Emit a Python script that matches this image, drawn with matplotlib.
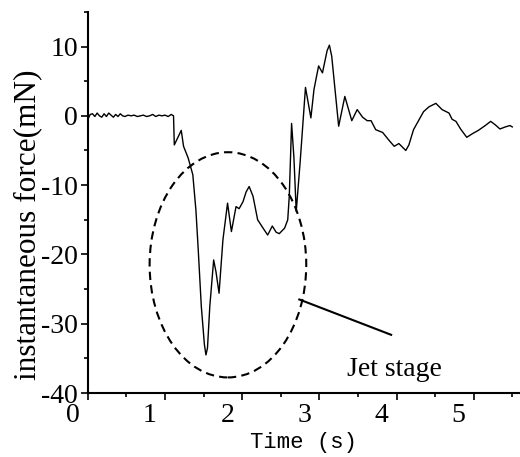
import matplotlib
matplotlib.use("Agg")
import matplotlib.pyplot as plt
import matplotlib.transforms as mtransforms
from matplotlib.patches import Ellipse
from matplotlib.ticker import MultipleLocator

# ==============================
# Data
# ==============================
time_s = [0.00, 0.03, 0.06, 0.09, 0.12, 0.15, 0.18, 0.21, 0.24, 0.27, 0.30,
          0.33, 0.36, 0.39, 0.42, 0.45, 0.48, 0.52, 0.56, 0.60, 0.64, 0.68,
          0.72, 0.76, 0.80, 0.84, 0.88, 0.92, 0.96, 1.00, 1.04, 1.08, 1.11,
          1.12, 1.15, 1.21, 1.24, 1.30, 1.36, 1.40, 1.43, 1.47, 1.51, 1.53,
          1.55, 1.58, 1.63, 1.66, 1.70, 1.75, 1.81, 1.86, 1.92, 1.96, 2.01,
          2.05, 2.09, 2.14, 2.20, 2.27, 2.33, 2.39, 2.44, 2.48, 2.55, 2.59,
          2.61, 2.64, 2.67, 2.70, 2.75, 2.82, 2.89, 2.93, 2.99, 3.04, 3.10,
          3.13, 3.16, 3.25, 3.33, 3.42, 3.49, 3.56, 3.62, 3.67, 3.73, 3.82,
          3.90, 3.97, 4.03, 4.12, 4.16, 4.22, 4.29, 4.35, 4.42, 4.51, 4.59,
          4.68, 4.72, 4.77, 4.83, 4.91, 4.98, 5.06, 5.15, 5.22, 5.28, 5.34,
          5.41, 5.47, 5.50]
force_mN = [-0.5, 0.2, 0.3, -0.1, 0.4, 0.0, -0.2, 0.3, -0.1, 0.4, 0.1,
            -0.2, 0.2, -0.1, 0.3, 0.0, -0.1, 0.1, 0.0, 0.1, -0.1, 0.0,
            0.1, -0.1, 0.0, 0.2, -0.1, 0.1, 0.0, 0.1, -0.1, 0.2, 0.0,
            -4.2, -3.5, -2.1, -4.4, -6.1, -8.5, -13.6, -19.3, -27.5, -33.0, -34.5,
            -33.5, -27.5, -20.8, -22.5, -25.6, -17.9, -12.6, -16.7, -13.1, -13.4, -12.4,
            -11.0, -10.2, -11.6, -15.0, -16.2, -17.2, -15.9, -16.8, -17.0, -16.2, -15.0,
            -11.6, -1.1, -6.0, -13.8, -6.8, 4.1, -0.3, 3.8, 7.2, 6.2, 9.4,
            10.2, 8.6, -1.5, 2.8, -0.7, 0.9, -0.2, -0.7, -0.7, -2.0, -2.4,
            -3.5, -4.4, -4.0, -5.0, -4.2, -2.0, -0.6, 0.6, 1.3, 1.8, 0.9,
            0.4, -0.5, -0.8, -1.9, -3.1, -2.6, -2.1, -1.4, -0.8, -1.3, -1.9,
            -1.6, -1.4, -1.6]

# jet stage marker (ellipse + pointer line)
jet_center = (1.815, -21.5)
jet_size = (2.03, 32.5)
pointer_t = [2.74, 3.93]
pointer_f = [-26.5, -31.6]

plt.rcParams['axes.unicode_minus'] = False
serif = 'Liberation Serif'

fig = plt.figure(figsize=(5.2, 4.57), dpi=100)
ax = fig.add_axes([0.169, 0.140, 0.831, 0.834])

ax.plot(time_s, force_mN, color='black', lw=1.0)

ax.add_patch(Ellipse(jet_center, jet_size[0], jet_size[1], fill=False,
                     edgecolor='black', lw=1.5, linestyle=(0, (4, 2.5))))
ax.plot(pointer_t, pointer_f, color='black', lw=1.5)
ax.text(3.36, -36.6, 'Jet stage', fontfamily=serif, fontsize=20,
        va='center', ha='left')

ax.set_xlim(0, 5.6)
ax.set_ylim(-40, 15)
ax.xaxis.set_major_locator(MultipleLocator(1))
ax.xaxis.set_minor_locator(MultipleLocator(0.5))
ax.yaxis.set_major_locator(MultipleLocator(10))
ax.yaxis.set_minor_locator(MultipleLocator(5))
ax.tick_params(which='major', direction='out', length=5, width=1.2, pad=2)
ax.tick_params(which='minor', direction='out', length=3, width=1.2)

for s in ['top', 'right']:
    ax.spines[s].set_visible(False)
for s in ['left', 'bottom']:
    ax.spines[s].set_linewidth(1.5)

for lab in ax.get_yticklabels():
    lab.set_fontfamily(serif)
    lab.set_fontsize(20)
offset = mtransforms.ScaledTranslation(-15 / 100, 0, fig.dpi_scale_trans)
for lab in ax.get_xticklabels():
    lab.set_fontfamily(serif)
    lab.set_fontsize(20)
    lab.set_transform(lab.get_transform() + offset)

ax.set_ylabel('instantaneous force(mN)', fontfamily=serif, fontsize=22.5)
ax.yaxis.set_label_coords(-0.105, 0.441)
ax.set_xlabel('Time (s)', fontfamily='Liberation Mono', fontsize=16,
              labelpad=3)

fig.savefig('out.png', dpi=100)
